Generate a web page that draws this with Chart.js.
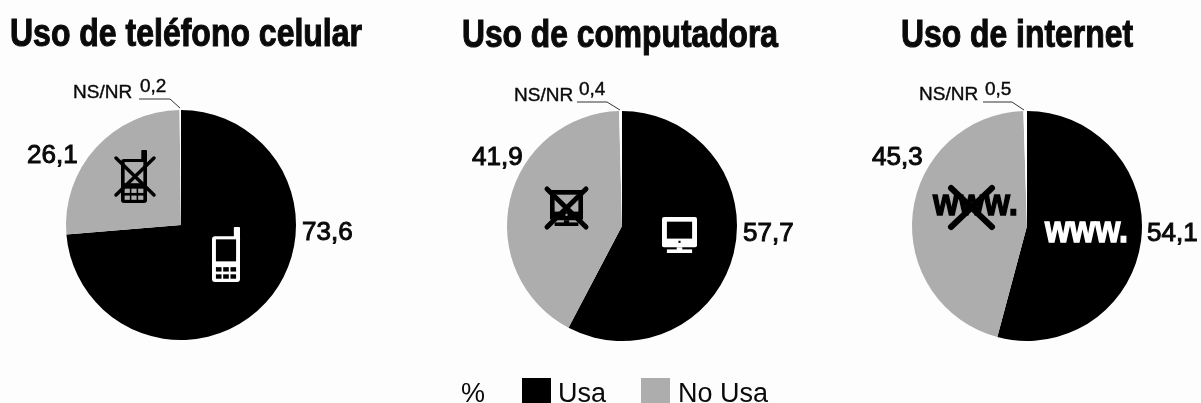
<!DOCTYPE html>
<html>
<head>
<meta charset="utf-8">
<title>Uso de teléfono celular, computadora e internet</title>
<script src="https://cdn.jsdelivr.net/npm/chart.js@4"></script>
<style>
  html, body { margin: 0; padding: 0; background: #fdfdfd; overflow: hidden; }
  #wrap { position: relative; width: 1201px; height: 403px; }
  #wrap canvas { position: absolute; left: 0; top: 0; }
</style>
</head>
<body>
<div id="wrap">
  <canvas id="phone" width="1201" height="403"></canvas>
  <canvas id="computer" width="1201" height="403"></canvas>
  <canvas id="internet" width="1201" height="403"></canvas>
</div>
<script>
// Values in %
var categories = ["Usa", "No Usa", "NS/NR"];
var titles = ["Uso de teléfono celular", "Uso de computadora", "Uso de internet"];
var phone_values = [73.6, 26.1, 0.2];
var computer_values = [57.7, 41.9, 0.4];
var internet_values = [54.1, 45.3, 0.5];

var BLACK = "#000000";
var GREY = "#adadad";
var WHITE = "#ffffff";
var INK = "#0a0a0a";
var SANS = '"Liberation Sans", Arial, sans-serif';
var NARROW = '"Liberation Sans Narrow", "Liberation Sans", sans-serif';
var RADIUS = 115;

function pct(v){
  return v.toFixed(1).replace(".", ",");
}

function drawText(ctx, text, x, y, size, weight, font, color, align){
  ctx.font = weight + " " + size + "px " + font;
  ctx.fillStyle = color || INK;
  ctx.textAlign = align || "left";
  ctx.textBaseline = "alphabetic";
  ctx.fillText(text, x, y);
}

// numbers next to the pie are a bit heavier than regular, lighter than bold
function drawValue(ctx, text, x, y){
  drawText(ctx, text, x, y, 26, "normal", SANS);
  ctx.strokeStyle = INK;
  ctx.lineWidth = 1;
  ctx.strokeText(text, x, y);
}

function drawSmall(ctx, text, x, y){
  drawText(ctx, text, x, y, 19, "normal", SANS);
  ctx.strokeStyle = INK;
  ctx.lineWidth = 0.4;
  ctx.strokeText(text, x, y);
}

// squeeze the text to the wanted width, no condensed heavy face is installed
function drawFitted(ctx, text, x, y, width, font, color, stroke){
  ctx.save();
  ctx.font = font;
  ctx.translate(x, y);
  ctx.scale(width / ctx.measureText(text).width, 1);
  ctx.fillStyle = color;
  ctx.textAlign = "left";
  ctx.textBaseline = "alphabetic";
  ctx.fillText(text, 0, 0);
  if (stroke) {
    ctx.strokeStyle = color;
    ctx.lineWidth = stroke;
    ctx.strokeText(text, 0, 0);
  }
  ctx.restore();
}

function drawTitle(ctx, text, x, y, width){
  drawFitted(ctx, text, x, y, width, "bold 39px " + NARROW, INK, 1.1);
}

function leader(ctx, x1, x2, x3, y1, y2){
  ctx.strokeStyle = "#333";
  ctx.lineWidth = 1;
  ctx.beginPath();
  ctx.moveTo(x1, y1);
  ctx.lineTo(x2, y1);
  ctx.lineTo(x3, y2);
  ctx.stroke();
}

function drawCross(ctx, x1, y1, x2, y2, width){
  ctx.strokeStyle = BLACK;
  ctx.lineWidth = width;
  ctx.lineCap = "round";
  ctx.beginPath();
  ctx.moveTo(x1, y1);
  ctx.lineTo(x2, y2);
  ctx.moveTo(x2, y1);
  ctx.lineTo(x1, y2);
  ctx.stroke();
  ctx.lineCap = "butt";
}

function roundBox(ctx, x, y, w, h, r, color){
  ctx.fillStyle = color;
  ctx.beginPath();
  ctx.roundRect(x, y, w, h, r);
  ctx.fill();
}

function drawPhoneIcon(ctx, x, y, w, h, color, back){
  var ant = h * 0.17;
  roundBox(ctx, x + w * 0.78, y, w * 0.22, ant + 3, 1, color);
  roundBox(ctx, x, y + ant, w, h - ant, 3, color);
  ctx.fillStyle = back;
  ctx.fillRect(x + w * 0.14, y + ant + 3, w * 0.72, h * 0.4);
  for (var r = 0; r < 2; r++) {
    for (var c = 0; c < 3; c++) {
      ctx.fillRect(x + w * (0.14 + c * 0.26), y + h * (0.73 + r * 0.13), w * 0.2, h * 0.08);
    }
  }
}

function drawComputerIcon(ctx, x, y, w, h, color, back){
  roundBox(ctx, x, y, w, h * 0.84, 2, color);
  ctx.fillStyle = back;
  ctx.fillRect(x + w * 0.14, y + h * 0.13, w * 0.72, h * 0.47);
  ctx.fillRect(x + w * 0.47, y + h * 0.66, w * 0.06, h * 0.06);
  ctx.fillStyle = color;
  ctx.fillRect(x + w * 0.14, y + h * 0.9, w * 0.72, h * 0.1);
  ctx.fillRect(x + w * 0.42, y + h * 0.84, w * 0.16, h * 0.08);
}

function drawLegend(ctx){
  drawText(ctx, "%", 461, 402, 27, "normal", SANS);
  ctx.fillStyle = BLACK;
  ctx.fillRect(522, 378, 29, 25);
  drawText(ctx, categories[0], 558, 402, 27, "normal", SANS);
  ctx.fillStyle = GREY;
  ctx.fillRect(641, 378, 29, 25);
  drawText(ctx, categories[1], 678, 402, 27, "normal", SANS);
}

var decorations = {
  phone: function(ctx, values){
    drawTitle(ctx, titles[0], 10, 46, 352);
    drawValue(ctx, pct(values[1]), 27, 163);
    drawValue(ctx, pct(values[0]), 302, 240);
    drawSmall(ctx, categories[2], 73, 98);
    drawSmall(ctx, pct(values[2]), 140, 92);
    leader(ctx, 139, 170, 180, 99, 108);
    drawPhoneIcon(ctx, 212, 227, 28, 55, WHITE, BLACK);
    drawPhoneIcon(ctx, 121, 150, 26, 53, BLACK, GREY);
    drawCross(ctx, 116, 158, 154, 195, 3.5);
  },
  computer: function(ctx, values){
    drawTitle(ctx, titles[1], 462, 47, 316);
    drawValue(ctx, pct(values[1]), 472, 165);
    drawValue(ctx, pct(values[0]), 743, 241);
    drawSmall(ctx, categories[2], 514, 101);
    drawSmall(ctx, pct(values[2]), 579, 95);
    leader(ctx, 577, 607, 620, 102, 110);
    drawComputerIcon(ctx, 662, 217, 35, 36, WHITE, BLACK);
    drawComputerIcon(ctx, 550, 190, 33, 36, BLACK, GREY);
    drawCross(ctx, 547, 189, 586, 227, 5);
    drawLegend(ctx);
  },
  internet: function(ctx, values){
    drawTitle(ctx, titles[2], 901, 47, 232);
    drawValue(ctx, pct(values[1]), 872, 165);
    drawValue(ctx, pct(values[0]), 1147, 241);
    drawSmall(ctx, categories[2], 919, 100);
    drawSmall(ctx, pct(values[2]), 985, 95);
    leader(ctx, 983, 1012, 1024, 102, 110);
    drawFitted(ctx, "www.", 1045, 242, 83, "bold 36px " + SANS, WHITE, 1.4);
    drawFitted(ctx, "www.", 933, 215, 85, "bold 36px " + SANS, BLACK, 1.4);
    drawCross(ctx, 951, 188, 992, 227, 6);
  }
};

var pieText = {
  id: "pieText",
  afterDraw: function(chart){
    decorations[chart.canvas.id](chart.ctx, chart.data.datasets[0].data);
  }
};

function createPie(id, values, cx, cy){
  return new Chart(document.getElementById(id), {
    type: "pie",
    plugins: [pieText],
    data: {
      labels: categories,
      datasets: [{
        data: values,
        backgroundColor: [BLACK, GREY, WHITE],
        borderWidth: 0
      }]
    },
    options: {
      responsive: false,
      animation: false,
      events: [],
      layout: {
        padding: {
          left: cx - RADIUS,
          right: 1201 - cx - RADIUS,
          top: cy - RADIUS,
          bottom: 403 - cy - RADIUS
        }
      },
      plugins: {
        legend: { display: false },
        tooltip: { enabled: false }
      }
    }
  });
}

createPie("phone", phone_values, 181, 225);
createPie("computer", computer_values, 622, 226);
createPie("internet", internet_values, 1027, 226);
</script>
</body>
</html>
